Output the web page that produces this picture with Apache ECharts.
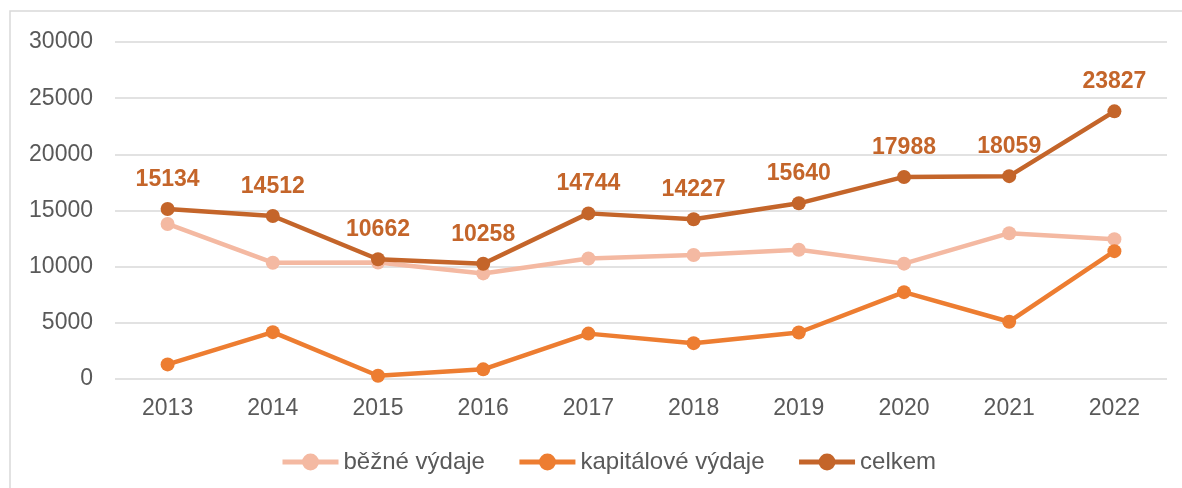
<!DOCTYPE html>
<html>
<head>
<meta charset="utf-8">
<script src="https://cdn.jsdelivr.net/npm/echarts@6/dist/echarts.min.js"></script>
<style>
  html, body { margin: 0; padding: 0; background: #fff; }
  #chart { width: 1182px; height: 488px; }
</style>
</head>
<body>
<div id="chart"></div>
<script>
  // data
  const years = ['2013', '2014', '2015', '2016', '2017', '2018', '2019', '2020', '2021', '2022'];
  const bezne = [13800, 10350, 10370, 9400, 10730, 11040, 11500, 10270, 12980, 12450];
  const kapitalove = [1300, 4170, 290, 860, 4040, 3190, 4140, 7730, 5100, 11380];
  const celkem = [15134, 14512, 10662, 10258, 14744, 14227, 15640, 17988, 18059, 23827];
  const yTicks = [0, 5000, 10000, 15000, 20000, 25000, 30000];

  const font = 'Arial, "Liberation Sans", sans-serif';
  const textColor = '#595959';

  let chart = echarts.init(document.getElementById('chart'));

  function lineSeries(name, data, color, z) {
    return {
      name: name,
      type: 'line',
      data: data,
      z: z,
      symbol: 'circle',
      symbolSize: 14,
      lineStyle: { color: color, width: 4.5 },
      itemStyle: { color: color },
      emphasis: { disabled: true }
    };
  }

  let total = lineSeries('celkem', celkem, '#C4652A', 4);
  total.label = {
    show: true,
    position: 'top',
    distance: 11,
    color: '#C4652A',
    fontFamily: font,
    fontSize: 23,
    fontWeight: 'bold'
  };

  chart.setOption({
    animation: false,
    graphic: [{
      type: 'rect',
      shape: { x: 10, y: 11, width: 1200, height: 500 },
      style: { fill: 'none', stroke: '#d9d9d9', lineWidth: 1.5 },
      silent: true
    }],
    grid: { left: 115, right: 15, top: 42, bottom: 109 },
    legend: {
      top: 445,
      left: 275,
      itemWidth: 56,
      itemHeight: 21,
      itemGap: 32,
      lineStyle: { width: 5 },
      textStyle: { color: textColor, fontFamily: font, fontSize: 24 },
      data: ['běžné výdaje', 'kapitálové výdaje', 'celkem']
    },
    xAxis: {
      type: 'category',
      data: years,
      axisLine: { show: false },
      axisTick: { show: false },
      axisLabel: { color: textColor, fontFamily: font, fontSize: 23, margin: 18 }
    },
    yAxis: {
      type: 'value',
      min: yTicks[0],
      max: yTicks[yTicks.length - 1],
      interval: 5000,
      axisLine: { show: false },
      axisTick: { show: false },
      splitLine: { lineStyle: { color: '#d9d9d9', width: 1.5 } },
      axisLabel: {
        color: textColor, fontFamily: font, fontSize: 23, margin: 22,
        formatter: function (v) { return String(v); }
      }
    },
    series: [
      lineSeries('běžné výdaje', bezne, '#F4B9A2', 2),
      lineSeries('kapitálové výdaje', kapitalove, '#ED7D31', 3),
      total
    ]
  });
</script>
</body>
</html>
